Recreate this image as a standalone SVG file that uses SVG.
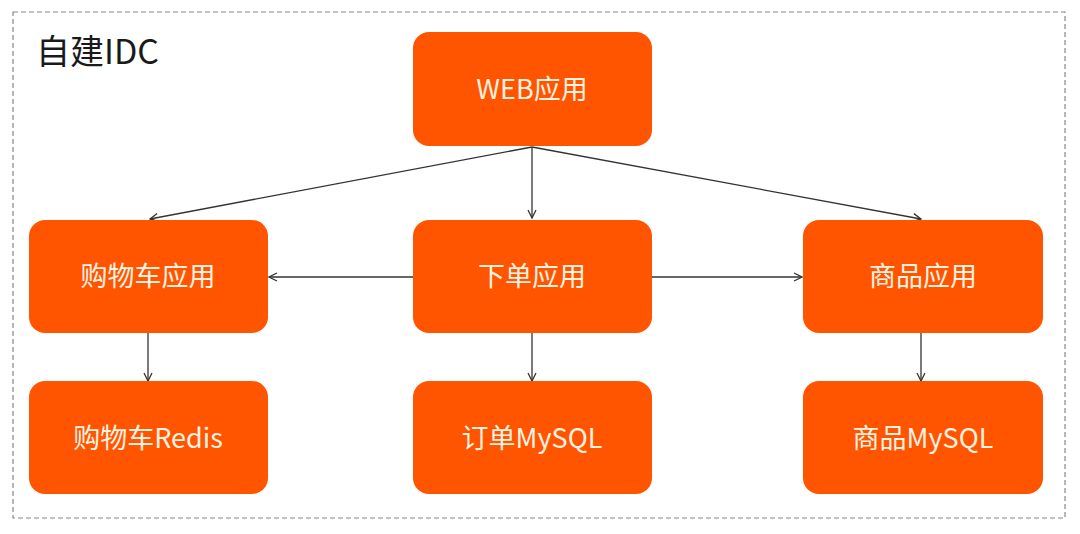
<svg xmlns="http://www.w3.org/2000/svg" width="1080" height="534" viewBox="0 0 1080 534">
<defs>
<style>
.node rect{fill:#FF5500;}
.node text{fill:#FFF2E0;font-family:"Noto Sans CJK SC","Noto Sans",sans-serif;font-size:27px;text-anchor:middle;dominant-baseline:central;}
.conn line{stroke:#333;stroke-width:1.3;fill:none;marker-end:url(#arr);}
</style>
<marker id="arr" viewBox="0 0 10 10" refX="9" refY="5" markerWidth="10" markerHeight="10" markerUnits="userSpaceOnUse" orient="auto">
<path d="M1,1 L9,5 L1,9" fill="none" stroke="#333" stroke-width="1.3"/>
</marker>
</defs>
<rect width="1080" height="534" fill="#fff"/>
<rect x="13" y="12" width="1052" height="506" fill="none" stroke="#888" stroke-width="1.2" stroke-dasharray="5,3"/>
<text x="36" y="64" font-family="Noto Sans CJK SC,sans-serif" font-size="34" fill="#1a1a1a">自建IDC</text>
<g class="conn">
<line x1="532" y1="147" x2="150" y2="219"/>
<line x1="532" y1="147" x2="532" y2="218"/>
<line x1="532" y1="147" x2="921" y2="219"/>
<line x1="413" y1="277" x2="269" y2="277"/>
<line x1="652" y1="277" x2="802" y2="277"/>
<line x1="148" y1="333" x2="148" y2="381"/>
<line x1="532" y1="333" x2="532" y2="381"/>
<line x1="921" y1="333" x2="921" y2="381"/>
</g>
<g id="web" class="node"><rect x="413" y="32" width="239" height="114" rx="16"/><text x="532" y="87">WEB应用</text></g>
<g id="cart" class="node"><rect x="29" y="220" width="239" height="113" rx="16"/><text x="148" y="274">购物车应用</text></g>
<g id="order" class="node"><rect x="413" y="220" width="239" height="113" rx="16"/><text x="532" y="274">下单应用</text></g>
<g id="goods" class="node"><rect x="803" y="220" width="240" height="113" rx="16"/><text x="923" y="274">商品应用</text></g>
<g id="redis" class="node"><rect x="29" y="381" width="239" height="113" rx="16"/><text x="148" y="436">购物车Redis</text></g>
<g id="ordermysql" class="node"><rect x="413" y="381" width="239" height="113" rx="16"/><text x="532" y="436">订单MySQL</text></g>
<g id="goodsmysql" class="node"><rect x="803" y="381" width="240" height="113" rx="16"/><text x="923" y="436">商品MySQL</text></g>
</svg>
